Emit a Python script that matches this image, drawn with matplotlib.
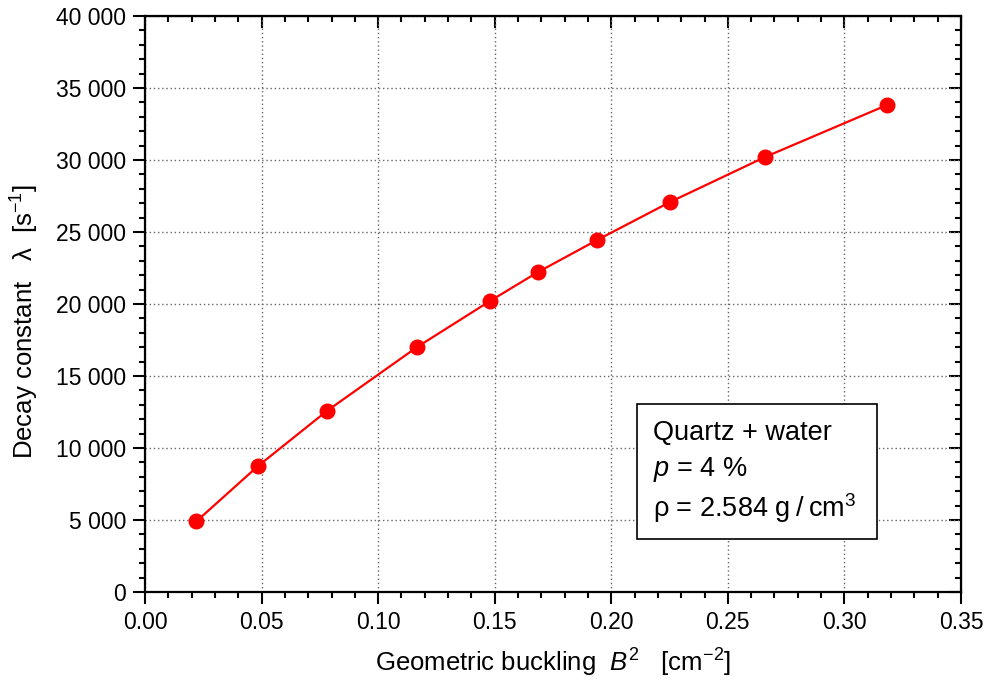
import matplotlib
matplotlib.use("Agg")
import matplotlib.pyplot as plt
from matplotlib.ticker import MultipleLocator, FuncFormatter
from matplotlib.patches import Rectangle

# buckling B^2 [cm^-2] and decay constant lambda [1/s]
b2 = [0.022, 0.0485, 0.078, 0.1167, 0.148, 0.1686, 0.1939, 0.2252, 0.266, 0.3183]
lam = [4900, 8750, 12570, 17010, 20210, 22220, 24440, 27080, 30210, 33820]

box_lines = ["Quartz + water", "$p$ = 4 %", "\u03c1 = 2.584 g\u2009/\u2009cm$^3$"]

plt.rcParams["font.family"] = ["Liberation Sans", "DejaVu Sans"]
plt.rcParams["mathtext.fontset"] = "custom"
plt.rcParams["mathtext.rm"] = "Liberation Sans"
plt.rcParams["mathtext.it"] = "Liberation Sans:italic"

fig = plt.figure(figsize=(9.87, 6.82), dpi=100)
ax = fig.add_axes([145 / 987, 90 / 682, 816 / 987, 576 / 682])

ax.plot(b2, lam, "-o", color="#ff0000", lw=1.6, ms=10.5, zorder=3)

ax.set_xlim(0, 0.35)
ax.set_ylim(0, 40000)
ax.xaxis.set_major_locator(MultipleLocator(0.05))
ax.xaxis.set_minor_locator(MultipleLocator(0.01))
ax.yaxis.set_major_locator(MultipleLocator(5000))
ax.yaxis.set_minor_locator(MultipleLocator(1000))
ax.xaxis.set_major_formatter(FuncFormatter(lambda v, p: f"{v:.2f}"))
ax.yaxis.set_major_formatter(FuncFormatter(lambda v, p: f"{int(round(v)):,}".replace(",", " ")))

ax.grid(True, which="major", color="#666666", linestyle=(0, (1, 2)), lw=1)
for s in ax.spines.values():
    s.set_linewidth(1.6)
ax.tick_params(which="major", direction="out", length=8.5, width=1.5, labelsize=16.5, pad=5)
ax.tick_params(which="minor", direction="out", length=4.5, width=1.5)

# top / right: inward ticks without labels
top = ax.secondary_xaxis("top")
right = ax.secondary_yaxis("right")
for sec in (top, right):
    sec.tick_params(which="major", direction="in", length=8.5, width=1.5)
    sec.tick_params(which="minor", direction="in", length=4.5, width=1.5)
top.xaxis.set_major_locator(MultipleLocator(0.05))
top.xaxis.set_minor_locator(MultipleLocator(0.01))
top.set_xticklabels([])
right.yaxis.set_major_locator(MultipleLocator(5000))
right.yaxis.set_minor_locator(MultipleLocator(1000))
right.set_yticklabels([])

ax.set_xlabel("Geometric buckling  $B^2$   [cm$^{-2}$]", fontsize=18.5)
ax.set_ylabel("Decay constant   \u03bb  [s$^{-1}$]", fontsize=18.5)
ax.xaxis.set_label_coords(0.5, -0.095)
ax.yaxis.set_label_coords(-0.127, 0.47)

ax.add_patch(Rectangle((0.603, 0.092), 0.294, 0.234, transform=ax.transAxes,
                       facecolor="white", edgecolor="black", lw=1.2, zorder=4))
for ty, line in zip([0.276, 0.212, 0.146], box_lines):
    ax.text(0.623, ty, line, transform=ax.transAxes, fontsize=19.5, va="center", ha="left", zorder=5)

fig.savefig("out.png", dpi=100)
